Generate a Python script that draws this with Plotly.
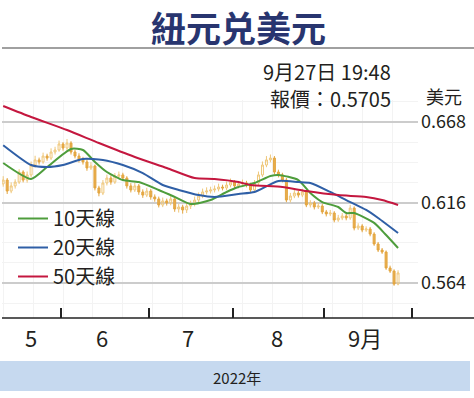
import pandas as pd
import plotly.graph_objects as go

# ---------------- data ----------------
dates = pd.bdate_range("2022-05-11", "2022-09-27")  # trading days (100)
idx = list(range(len(dates)))

opens = [0.6280, 0.6305, 0.6234, 0.6267, 0.6292, 0.6357, 0.6305, 0.6338, 0.6402, 0.6435,
         0.6422, 0.6460, 0.6447, 0.6486, 0.6499, 0.6538, 0.6512, 0.6544, 0.6486, 0.6460,
         0.6435, 0.6422, 0.6383, 0.6396, 0.6254, 0.6221, 0.6286, 0.6318, 0.6292, 0.6331,
         0.6338, 0.6318, 0.6267, 0.6241, 0.6267, 0.6228, 0.6208, 0.6234, 0.6196, 0.6183,
         0.6144, 0.6170, 0.6157, 0.6183, 0.6118, 0.6131, 0.6112, 0.6137, 0.6150, 0.6176,
         0.6202, 0.6228, 0.6234, 0.6241, 0.6247, 0.6260, 0.6254, 0.6273, 0.6292, 0.6267,
         0.6280, 0.6286, 0.6273, 0.6241, 0.6286, 0.6338, 0.6402, 0.6435, 0.6447, 0.6357,
         0.6338, 0.6305, 0.6176, 0.6202, 0.6221, 0.6208, 0.6228, 0.6144, 0.6157, 0.6131,
         0.6137, 0.6099, 0.6086, 0.6092, 0.6047, 0.6060, 0.6073, 0.6060, 0.6124, 0.5995,
         0.6008, 0.5982, 0.5989, 0.5956, 0.5892, 0.5853, 0.5840, 0.5737, 0.5717, 0.5633]
highs = [0.6330, 0.6318, 0.6290, 0.6310, 0.6375, 0.6368, 0.6360, 0.6425, 0.6462, 0.6450,
         0.6482, 0.6475, 0.6510, 0.6520, 0.6560, 0.6550, 0.6570, 0.6556, 0.6500, 0.6478,
         0.6455, 0.6440, 0.6420, 0.6405, 0.6268, 0.6305, 0.6340, 0.6335, 0.6350, 0.6360,
         0.6352, 0.6330, 0.6285, 0.6288, 0.6280, 0.6245, 0.6255, 0.6248, 0.6212, 0.6198,
         0.6192, 0.6185, 0.6205, 0.6195, 0.6150, 0.6145, 0.6160, 0.6172, 0.6198, 0.6225,
         0.6250, 0.6258, 0.6262, 0.6270, 0.6282, 0.6275, 0.6295, 0.6315, 0.6305, 0.6300,
         0.6308, 0.6300, 0.6288, 0.6305, 0.6360, 0.6425, 0.6460, 0.6470, 0.6460, 0.6372,
         0.6352, 0.6318, 0.6222, 0.6242, 0.6236, 0.6248, 0.6240, 0.6175, 0.6170, 0.6158,
         0.6150, 0.6112, 0.6112, 0.6104, 0.6080, 0.6092, 0.6086, 0.6145, 0.6135, 0.6026,
         0.6020, 0.6006, 0.6002, 0.5968, 0.5905, 0.5866, 0.5850, 0.5752, 0.5728, 0.5722]
lows = [0.6262, 0.6215, 0.6220, 0.6250, 0.6280, 0.6290, 0.6288, 0.6322, 0.6385, 0.6405,
        0.6410, 0.6430, 0.6435, 0.6470, 0.6488, 0.6495, 0.6500, 0.6470, 0.6445, 0.6418,
        0.6405, 0.6365, 0.6370, 0.6238, 0.6200, 0.6208, 0.6270, 0.6275, 0.6280, 0.6315,
        0.6300, 0.6250, 0.6225, 0.6228, 0.6210, 0.6190, 0.6195, 0.6178, 0.6165, 0.6128,
        0.6130, 0.6140, 0.6142, 0.6100, 0.6095, 0.6088, 0.6092, 0.6118, 0.6135, 0.6160,
        0.6188, 0.6212, 0.6218, 0.6225, 0.6232, 0.6238, 0.6240, 0.6258, 0.6250, 0.6252,
        0.6265, 0.6258, 0.6225, 0.6230, 0.6272, 0.6325, 0.6388, 0.6420, 0.6342, 0.6322,
        0.6290, 0.6162, 0.6160, 0.6188, 0.6192, 0.6195, 0.6130, 0.6128, 0.6115, 0.6118,
        0.6085, 0.6070, 0.6072, 0.6032, 0.6035, 0.6046, 0.6045, 0.6048, 0.5980, 0.5982,
        0.5968, 0.5970, 0.5942, 0.5880, 0.5840, 0.5828, 0.5725, 0.5705, 0.5622, 0.5625]
closes = [0.6305, 0.6234, 0.6267, 0.6292, 0.6357, 0.6305, 0.6338, 0.6402, 0.6435, 0.6422,
          0.6460, 0.6447, 0.6486, 0.6499, 0.6538, 0.6512, 0.6544, 0.6486, 0.6460, 0.6435,
          0.6422, 0.6383, 0.6396, 0.6254, 0.6221, 0.6286, 0.6318, 0.6292, 0.6331, 0.6338,
          0.6318, 0.6267, 0.6241, 0.6267, 0.6228, 0.6208, 0.6234, 0.6196, 0.6183, 0.6144,
          0.6170, 0.6157, 0.6183, 0.6118, 0.6131, 0.6112, 0.6137, 0.6150, 0.6176, 0.6202,
          0.6228, 0.6234, 0.6241, 0.6247, 0.6260, 0.6254, 0.6273, 0.6292, 0.6267, 0.6280,
          0.6286, 0.6273, 0.6241, 0.6286, 0.6338, 0.6402, 0.6435, 0.6447, 0.6357, 0.6338,
          0.6305, 0.6176, 0.6202, 0.6221, 0.6208, 0.6228, 0.6144, 0.6157, 0.6131, 0.6137,
          0.6099, 0.6086, 0.6092, 0.6047, 0.6060, 0.6073, 0.6060, 0.6124, 0.5995, 0.6008,
          0.5982, 0.5989, 0.5956, 0.5892, 0.5853, 0.5840, 0.5737, 0.5717, 0.5633, 0.5705]

ma10_idx = [0, 7, 11, 17, 20, 23, 26, 30, 34, 39, 43, 47, 52, 56, 59, 63, 67, 69, 74, 77, 80, 84, 86, 88, 93, 96, 99]
ma10_val = [0.6415, 0.6312, 0.6389, 0.6506, 0.6499, 0.6422, 0.6357, 0.6305, 0.6292, 0.6241,
            0.6196, 0.6150, 0.6176, 0.6228, 0.6260, 0.6286, 0.6331, 0.6338, 0.6305, 0.6221,
            0.6163, 0.6131, 0.6092, 0.6092, 0.6028, 0.5950, 0.5866]
ma20_idx = [0, 7, 11, 15, 20, 25, 30, 35, 40, 44, 49, 53, 59, 63, 69, 74, 77, 82, 86, 91, 94, 99]
ma20_val = [0.6530, 0.6402, 0.6389, 0.6402, 0.6441, 0.6435, 0.6402, 0.6350, 0.6273, 0.6241,
            0.6208, 0.6196, 0.6215, 0.6228, 0.6299, 0.6292, 0.6286, 0.6228, 0.6176, 0.6112,
            0.6060, 0.5963]
ma50_idx = [0, 7, 16, 24, 33, 41, 48, 53, 59, 62, 70, 76, 84, 91, 95, 99]
ma50_val = [0.6783, 0.6712, 0.6628, 0.6544, 0.6454, 0.6383, 0.6318, 0.6312, 0.6292, 0.6273,
            0.6260, 0.6234, 0.6208, 0.6196, 0.6176, 0.6144]

y_ticks = [0.564, 0.616, 0.668]
month_bounds = [14.5, 36.5, 57.5, 80.5, 102.5]
month_label_pos = [7.0, 24.8, 46.3, 68.6, 90.7]
month_labels = ["5", "6", "7", "8", "9月"]
legend_names = ["10天線", "20天線", "50天線"]

# ---------------- layout helpers ----------------
W, H = 474, 398
ML, MR, MT, MB = 2, 56, 100, 80
PW, PH = W - ML - MR, H - MT - MB


def px(x):
    return (x - ML) / PW


def py(y):
    return (H - MB - y) / PH


FONT = "Noto Sans CJK TC, Noto Sans, sans-serif"
TXT = "#231f20"

fig = go.Figure()

fig.add_trace(go.Candlestick(
    x=idx, open=opens, high=highs, low=lows, close=closes,
    increasing=dict(line=dict(color="#efc77a", width=1), fillcolor="rgba(255,255,255,0)"),
    decreasing=dict(line=dict(color="#e3a53f", width=1), fillcolor="#e8ae4e"),
    whiskerwidth=0, showlegend=False, hoverinfo="skip",
))

for name, xs, ys, col in [
    (legend_names[0], ma10_idx, ma10_val, "#4e9d3c"),
    (legend_names[1], ma20_idx, ma20_val, "#2f5fa6"),
    (legend_names[2], ma50_idx, ma50_val, "#c4173f"),
]:
    fig.add_trace(go.Scatter(x=xs, y=ys, mode="lines", name=name,
                             line=dict(color=col, width=2, shape="spline", smoothing=0.6)))

annos = [
    dict(x=px(238), y=py(0), text="<b>紐元兑美元</b>", yanchor="top", borderpad=0,
         font=dict(size=35, color="#28356f", family=FONT)),
    dict(x=px(393), y=py(71), text="9月27日 19:48", xanchor="right", height=22,
         font=dict(size=20, color=TXT, family=FONT)),
    dict(x=px(393), y=py(98), text="報價：0.5705", xanchor="right", height=22,
         font=dict(size=20, color=TXT, family=FONT)),
    dict(x=px(444), y=py(96), text="美元", height=20, font=dict(size=18, color=TXT, family=FONT)),
    dict(x=px(237), y=py(377), text="2022年", font=dict(size=15, color=TXT, family=FONT)),
]
for a in annos:
    a.update(xref="paper", yref="paper", showarrow=False)
    a.setdefault("xanchor", "center")
    a.setdefault("yanchor", "middle")
for pos, lab in zip(month_label_pos, month_labels):
    annos.append(dict(x=pos, y=py(337), xref="x", yref="paper", text=lab, showarrow=False,
                      font=dict(size=22, color=TXT, family=FONT), xanchor="center", yanchor="middle"))

shapes = [
    dict(type="line", xref="paper", yref="paper", x0=px(2), x1=px(474), y0=py(48), y1=py(48),
         line=dict(color="#808080", width=1.5)),
    dict(type="line", xref="paper", yref="paper", x0=px(2), x1=px(474), y0=0, y1=0,
         line=dict(color="#222222", width=1.5)),
    dict(type="rect", xref="paper", yref="paper", x0=px(0), x1=px(470), y0=py(391), y1=py(361),
         line=dict(width=0), fillcolor="#c6d9ef", layer="below"),
]

fig.update_layout(
    width=W, height=H, margin=dict(l=ML, r=MR, t=MT, b=MB),
    paper_bgcolor="white", plot_bgcolor="white",
    font=dict(family=FONT, color=TXT),
    annotations=annos, shapes=shapes,
    showlegend=True,
    legend=dict(x=px(13), y=py(199), xanchor="left", yanchor="top",
                font=dict(size=20, color=TXT, family=FONT), bgcolor="rgba(0,0,0,0)",
                tracegroupgap=0, itemwidth=30),
    xaxis=dict(range=[-0.3, 104.0], showgrid=False, zeroline=False,
               tickmode="array", tickvals=month_bounds, ticks="inside", ticklen=10,
               tickwidth=1.5, tickcolor="#222222", showticklabels=False, showline=False,
               rangeslider=dict(visible=False),
               minor=dict(showgrid=True, gridcolor="#f3f3f3", gridwidth=1, dtick=7.5, tick0=0)),
    yaxis=dict(range=[0.54139, 0.68221], side="right", tickmode="array", tickvals=y_ticks,
               ticktext=[f"{v:.3f}" for v in y_ticks], showgrid=True, gridcolor="#cccccc",
               gridwidth=2, zeroline=False, ticks="", ticklabelstandoff=2,
               tickfont=dict(size=18, color=TXT, family=FONT),
               minor=dict(showgrid=True, gridcolor="#f3f3f3", gridwidth=1, dtick=0.013, tick0=0.564)),
    hovermode=False,
)

fig.write_html("out.html", config={"displayModeBar": False},
               post_script="document.body.style.margin='0';document.body.style.padding='0';")
